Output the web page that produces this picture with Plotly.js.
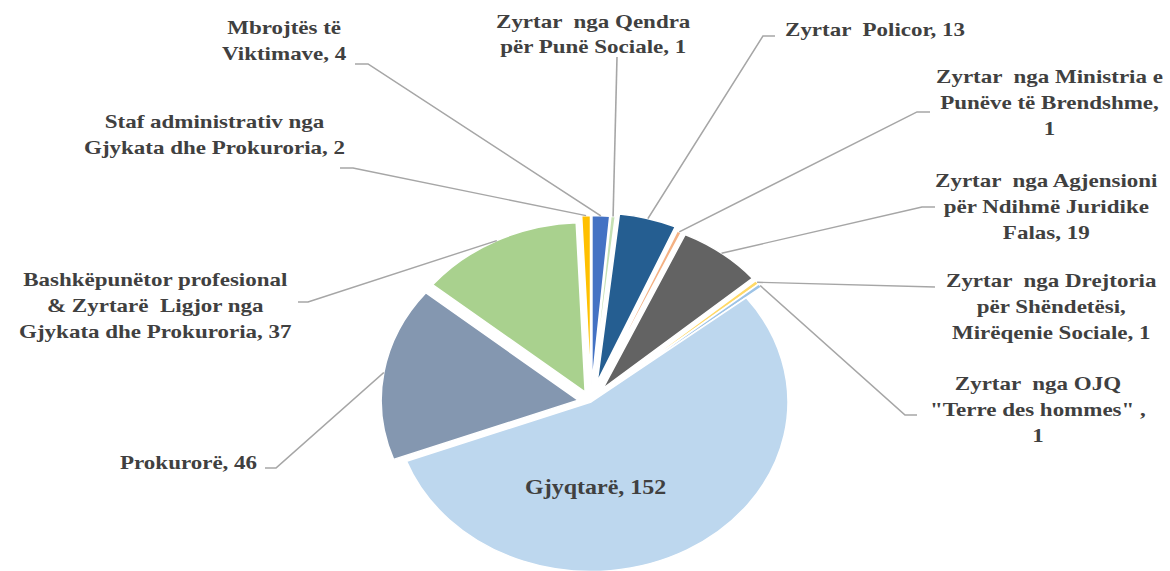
<!DOCTYPE html>
<html>
<head>
<meta charset="utf-8">
<script src="https://cdn.plot.ly/plotly-3.0.1.min.js"></script>
<style>
  html, body { margin:0; padding:0; background:#fff; overflow:hidden; }
  #wrap { width:1170px; height:571px; overflow:hidden; position:relative; }
  #chart { width:1170px; transform-origin:0 0; }
</style>
</head>
<body>
<div id="wrap"><div id="chart"></div></div>
<script>
// ---------------- DATA ----------------
const categories = [
  "Mbrojtës të Viktimave",
  "Zyrtar nga Qendra për Punë Sociale",
  "Zyrtar Policor",
  "Zyrtar nga Ministria e Punëve të Brendshme",
  "Zyrtar nga Agjensioni për Ndihmë Juridike Falas",
  "Zyrtar nga Drejtoria për Shëndetësi, Mirëqenie Sociale",
  "Zyrtar nga OJQ \"Terre des hommes\"",
  "Gjyqtarë",
  "Prokurorë",
  "Bashkëpunëtor profesional & Zyrtarë Ligjor nga Gjykata dhe Prokuroria",
  "Staf administrativ nga Gjykata dhe Prokuroria"
];
const values = [4, 1, 13, 1, 19, 1, 1, 152, 46, 37, 2];
// label text as displayed (line breaks), {v} = value
const labelText = [
  "Mbrojtës të<br>Viktimave, {v}",
  "Zyrtar  nga Qendra<br>për Punë Sociale, {v}",
  "Zyrtar  Policor, {v}",
  "Zyrtar  nga Ministria e<br>Punëve të Brendshme,<br>{v}",
  "Zyrtar  nga Agjensioni<br>për Ndihmë Juridike<br>Falas, {v}",
  "Zyrtar  nga Drejtoria<br>për Shëndetësi,<br>Mirëqenie Sociale, {v}",
  "Zyrtar  nga OJQ<br>\"Terre des hommes\" ,<br>{v}",
  "Gjyqtarë, {v}",
  "Prokurorë, {v}",
  "Bashkëpunëtor profesional<br>& Zyrtarë  Ligjor nga<br>Gjykata dhe Prokuroria, {v}",
  "Staf administrativ nga<br>Gjykata dhe Prokuroria, {v}"
];

// ---------------- STYLE / LAYOUT ----------------
const colors = ["#4472C4", "#C5E0B4", "#255E91", "#F4B183", "#636363", "#FFD966",
                "#9DC3E6", "#BDD7EE", "#8497B0", "#A9D18E", "#FFC000"];
const pulls  = [0.10, 0.10, 0.12, 0.10, 0.10, 0.10, 0.10, 0.0, 0.066, 0.066, 0.10];

const W = 1170, S = 0.86, H = 720;           // pre-squash canvas
const CX = 591, CY = 402 / S, R = 197;       // pie centre / radius (pre-squash px)
// label anchor (rendered px): [cx, cy]
const labelPos = [
  [284, 41], [593, 34], [875, 30], [1049, 103], [1046, 207], [1051, 307],
  [1038, 410], [595, 487], [188, 462], [155, 306], [214, 135]
];
// leader line start + elbow (rendered px), null = none
const leaderPts = [
  [355, 64, 368, 64], [617, 57, 617, 57], [775, 36, 763, 36], [930, 112, 917, 112],
  [935, 207, 922, 207], [935, 287, 935, 287], [917, 415, 905, 415], null,
  [265, 468, 276, 468], [298, 302, 308, 302], [340, 168, 353, 168]
];

document.getElementById('chart').style.height = H + 'px';
document.getElementById('chart').style.transform = 'scaleY(' + S + ')';

const maxPull = Math.max.apply(null, pulls);
const half = R * (1 + maxPull);
const domain = {
  x: [(CX - half) / W, (CX + half) / W],
  y: [(H - (CY + half)) / H, (H - (CY - half)) / H]
};

const px = x => x / W;
const pyR = y => 1 - (y / S) / H;     // rendered y -> paper
const pyP = y => 1 - y / H;           // pre-squash y -> paper

const total = values.reduce((a, b) => a + b, 0);
let cum = 0;
const shapes = [], annotations = [];
const font = {family: "Liberation Serif, Times New Roman, serif", size: 23, color: "#404040", weight: 700};

values.forEach((v, i) => {
  const mid = (cum + v / 2) / total * 2 * Math.PI;
  cum += v;
  const rr = R * (1 + pulls[i]);
  const ex = CX + rr * Math.sin(mid);
  const ey = CY - rr * Math.cos(mid);
  const lp = leaderPts[i];
  if (lp) {
    shapes.push({
      type: 'path', xref: 'paper', yref: 'paper',
      path: `M ${px(lp[0])} ${pyR(lp[1])} L ${px(lp[2])} ${pyR(lp[3])} L ${px(ex)} ${pyP(ey)}`,
      line: {color: '#A6A6A6', width: 1.6}
    });
  }
  annotations.push({
    xref: 'paper', yref: 'paper',
    x: px(labelPos[i][0]), y: pyR(labelPos[i][1]),
    xanchor: 'center', yanchor: 'middle', align: 'center',
    showarrow: false,
    text: labelText[i].replace('{v}', v),
    font: Object.assign({}, font, i === 7 ? {size: 24} : {})
  });
});

const trace = {
  type: 'pie',
  labels: categories,
  values: values,
  sort: false,
  direction: 'clockwise',
  rotation: 0,
  pull: pulls,
  textinfo: 'none',
  hoverinfo: 'label+value',
  marker: {colors: colors, line: {color: '#ffffff', width: 1.6}},
  domain: domain,
  showlegend: false
};

Plotly.newPlot('chart', [trace], {
  width: W, height: H,
  margin: {l: 0, r: 0, t: 0, b: 0},
  paper_bgcolor: '#ffffff',
  showlegend: false,
  shapes: shapes,
  annotations: annotations
}, {staticPlot: true, displayModeBar: false});
</script>
</body>
</html>
